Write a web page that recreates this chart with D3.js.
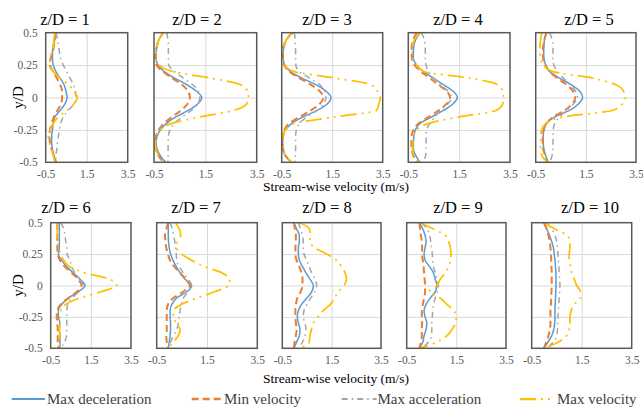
<!DOCTYPE html>
<html>
<head>
<meta charset="utf-8">
<script src="https://cdn.jsdelivr.net/npm/d3@7"></script>
<style>
  body { margin: 0; background: #fff; }
  svg { display: block; }
</style>
</head>
<body>
<div id="chart"></div>
<script>
// ---- data ----
const zLabels = ["z/D = 1", "z/D = 2", "z/D = 3", "z/D = 4", "z/D = 5",
                 "z/D = 6", "z/D = 7", "z/D = 8", "z/D = 9", "z/D = 10"];
const seriesNames = ["Max deceleration", "Min velocity", "Max acceleration", "Max velocity"];
const xTicks = [-0.5, 1.5, 3.5];
const yTicks = [0.5, 0.25, 0, -0.25, -0.5];
const yLevels = [0.5, 0.45, 0.4, 0.35, 0.3, 0.25, 0.2, 0.15, 0.1, 0.05, 0,
                 -0.05, -0.1, -0.15, -0.2, -0.25, -0.3, -0.35, -0.4, -0.45, -0.5];

// one row per panel (z/D = 1..10), values at yLevels
const maxDecel = [
  [0.0, -0.05, -0.13, -0.17, -0.17, -0.13, 0.0, 0.2, 0.39, 0.49, 0.54, 0.44, 0.2, -0.05, -0.13, -0.17, -0.21, -0.21, -0.17, -0.09, 0.0],
  [-0.14, -0.3, -0.38, -0.42, -0.42, -0.34, -0.1, 0.3, 0.77, 1.15, 1.36, 1.2, 0.84, 0.35, -0.01, -0.25, -0.38, -0.42, -0.38, -0.25, -0.05],
  [-0.05, -0.3, -0.4, -0.44, -0.44, -0.38, -0.15, 0.3, 0.85, 1.25, 1.45, 1.3, 0.9, 0.35, -0.1, -0.35, -0.44, -0.46, -0.44, -0.35, -0.1],
  [-0.04, -0.2, -0.28, -0.3, -0.3, -0.17, 0.1, 0.48, 0.88, 1.25, 1.43, 1.25, 0.88, 0.42, -0.04, -0.22, -0.28, -0.3, -0.3, -0.2, -0.04],
  [-0.07, -0.15, -0.17, -0.18, -0.17, -0.1, 0.06, 0.45, 0.91, 1.25, 1.37, 1.2, 0.85, 0.26, -0.07, -0.18, -0.2, -0.2, -0.17, -0.1, 0.0],
  [-0.07, -0.07, -0.07, -0.07, -0.07, -0.12, 0.05, 0.3, 0.63, 0.96, 1.21, 0.88, 0.38, 0.05, -0.12, -0.12, -0.04, -0.07, -0.04, -0.04, -0.04],
  [-0.04, -0.04, -0.04, -0.03, 0.0, 0.05, 0.15, 0.28, 0.43, 0.63, 0.89, 0.7, 0.29, 0.1, 0.03, 0.03, 0.05, 0.05, 0.03, 0.0, -0.04],
  [-0.03, 0.08, 0.19, 0.19, 0.15, 0.15, 0.19, 0.32, 0.46, 0.62, 0.76, 0.69, 0.49, 0.28, 0.15, 0.11, 0.15, 0.22, 0.19, 0.08, -0.03],
  [0.01, 0.15, 0.24, 0.28, 0.24, 0.2, 0.24, 0.42, 0.58, 0.65, 0.72, 0.65, 0.45, 0.28, 0.2, 0.24, 0.31, 0.28, 0.2, 0.15, 0.01],
  [-0.01, 0.1, 0.21, 0.3, 0.37, 0.4, 0.43, 0.45, 0.47, 0.47, 0.47, 0.46, 0.45, 0.44, 0.43, 0.43, 0.42, 0.38, 0.3, 0.15, -0.01]
];
const minVel = [
  [0.0, -0.05, -0.1, -0.16, -0.26, -0.29, -0.13, 0.04, 0.2, 0.3, 0.3, 0.24, 0.07, -0.1, -0.21, -0.29, -0.32, -0.29, -0.21, -0.1, 0.0],
  [-0.14, -0.3, -0.38, -0.43, -0.45, -0.4, -0.15, 0.2, 0.58, 0.82, 0.9, 0.8, 0.55, 0.2, -0.12, -0.32, -0.43, -0.45, -0.43, -0.32, -0.14],
  [-0.1, -0.3, -0.42, -0.46, -0.46, -0.4, -0.2, 0.2, 0.65, 1.0, 1.15, 1.0, 0.65, 0.2, -0.2, -0.4, -0.46, -0.46, -0.44, -0.35, -0.1],
  [-0.17, -0.3, -0.36, -0.37, -0.36, -0.25, 0.0, 0.35, 0.68, 1.0, 1.14, 1.0, 0.68, 0.3, -0.1, -0.3, -0.37, -0.38, -0.37, -0.3, -0.17],
  [-0.07, -0.15, -0.2, -0.22, -0.2, -0.12, 0.06, 0.35, 0.72, 0.98, 1.08, 0.95, 0.65, 0.2, -0.07, -0.18, -0.22, -0.22, -0.2, -0.12, -0.07],
  [-0.17, -0.17, -0.17, -0.17, -0.17, -0.15, -0.04, 0.2, 0.55, 0.85, 1.04, 0.8, 0.38, 0.0, -0.17, -0.2, -0.17, -0.15, -0.15, -0.15, -0.12],
  [-0.04, -0.12, -0.17, -0.15, -0.12, -0.05, 0.03, 0.2, 0.43, 0.65, 0.82, 0.55, 0.16, -0.05, -0.1, -0.1, -0.1, -0.1, -0.12, -0.1, -0.04],
  [-0.03, 0.01, 0.05, 0.05, 0.03, 0.03, 0.08, 0.19, 0.28, 0.32, 0.32, 0.24, 0.11, 0.05, 0.03, 0.03, 0.05, 0.08, 0.05, 0.0, -0.03],
  [0.01, 0.04, 0.07, 0.11, 0.12, 0.12, 0.15, 0.18, 0.2, 0.22, 0.24, 0.24, 0.2, 0.15, 0.11, 0.11, 0.12, 0.11, 0.11, 0.07, 0.01],
  [-0.01, 0.1, 0.17, 0.22, 0.25, 0.27, 0.28, 0.29, 0.3, 0.3, 0.3, 0.29, 0.28, 0.27, 0.25, 0.25, 0.25, 0.23, 0.17, 0.08, -0.01]
];
const maxAccel = [
  [0.0, 0.07, 0.12, 0.17, 0.23, 0.36, 0.52, 0.69, 0.85, 0.95, 0.98, 0.88, 0.6, 0.36, 0.23, 0.17, 0.12, 0.07, 0.04, 0.0, 0.0],
  [0.0, 0.04, 0.06, 0.06, 0.06, 0.08, 0.3, 0.65, 1.0, 1.23, 1.29, 1.2, 0.95, 0.6, 0.3, 0.12, 0.06, 0.05, 0.05, 0.05, 0.04],
  [0.0, 0.03, 0.04, 0.05, 0.05, 0.06, 0.2, 0.6, 1.0, 1.2, 1.25, 1.15, 0.9, 0.5, 0.2, 0.08, 0.05, 0.05, 0.05, 0.04, 0.02],
  [0.02, 0.12, 0.16, 0.17, 0.17, 0.2, 0.29, 0.5, 0.75, 1.05, 1.2, 1.05, 0.75, 0.55, 0.35, 0.22, 0.2, 0.2, 0.2, 0.18, 0.05],
  [0.06, 0.15, 0.19, 0.19, 0.19, 0.22, 0.39, 0.6, 0.85, 1.08, 1.17, 1.0, 0.72, 0.45, 0.26, 0.2, 0.19, 0.19, 0.19, 0.15, 0.06],
  [0.0, 0.15, 0.21, 0.25, 0.3, 0.32, 0.46, 0.55, 0.71, 0.95, 1.13, 0.9, 0.55, 0.35, 0.3, 0.3, 0.3, 0.3, 0.28, 0.2, 0.0],
  [0.03, 0.12, 0.17, 0.22, 0.26, 0.28, 0.29, 0.4, 0.56, 0.75, 0.89, 0.75, 0.56, 0.48, 0.43, 0.4, 0.36, 0.3, 0.17, 0.05, -0.04],
  [0.15, 0.24, 0.32, 0.35, 0.35, 0.38, 0.49, 0.59, 0.69, 0.82, 0.89, 0.82, 0.65, 0.49, 0.38, 0.35, 0.42, 0.46, 0.42, 0.32, 0.15],
  [0.11, 0.31, 0.42, 0.47, 0.5, 0.53, 0.55, 0.58, 0.65, 0.72, 0.78, 0.74, 0.65, 0.58, 0.55, 0.53, 0.51, 0.51, 0.5, 0.38, 0.11],
  [0.1, 0.3, 0.43, 0.5, 0.53, 0.55, 0.57, 0.59, 0.6, 0.62, 0.63, 0.62, 0.6, 0.58, 0.57, 0.55, 0.54, 0.53, 0.5, 0.37, 0.1]
];
const maxVel = [
  [-0.05, -0.1, -0.13, -0.21, -0.29, -0.32, -0.13, 0.2, 0.6, 0.88, 1.04, 0.88, 0.52, 0.12, -0.13, -0.29, -0.37, -0.32, -0.21, -0.13, -0.05],
  [-0.14, -0.3, -0.38, -0.43, -0.43, -0.3, 0.25, 1.7, 2.85, 3.14, 3.18, 3.1, 2.6, 1.3, 0.2, -0.27, -0.42, -0.45, -0.43, -0.3, -0.14],
  [-0.1, -0.3, -0.42, -0.46, -0.46, -0.38, 0.0, 1.6, 3.0, 3.3, 3.4, 3.35, 3.25, 1.6, 0.0, -0.35, -0.46, -0.46, -0.44, -0.35, -0.1],
  [-0.04, -0.25, -0.33, -0.35, -0.33, -0.17, 0.1, 1.9, 3.0, 3.21, 3.24, 3.21, 2.95, 1.5, 0.3, -0.17, -0.3, -0.33, -0.33, -0.28, -0.04],
  [-0.26, -0.3, -0.33, -0.33, -0.3, -0.2, 0.19, 1.76, 2.68, 3.0, 3.07, 2.95, 2.55, 0.6, -0.1, -0.26, -0.3, -0.3, -0.3, -0.25, 0.0],
  [-0.17, -0.17, -0.17, -0.15, -0.1, 0.0, 0.15, 0.45, 1.2, 2.45, 2.79, 2.0, 0.95, 0.25, 0.0, -0.04, -0.04, -0.07, -0.05, -0.05, -0.1],
  [0.25, 0.4, 0.45, 0.32, 0.29, 0.49, 0.9, 1.4, 2.1, 2.4, 2.35, 1.8, 1.1, 0.5, 0.16, 0.16, 0.29, 0.43, 0.36, 0.16, -0.04],
  [0.2, 0.6, 0.62, 0.62, 0.82, 1.3, 1.7, 1.9, 2.05, 2.1, 2.0, 1.77, 1.62, 1.45, 1.16, 0.95, 0.75, 0.68, 0.62, 0.59, 0.2],
  [0.04, 0.58, 1.05, 1.19, 1.26, 1.28, 1.26, 1.19, 1.05, 0.85, 0.72, 0.4, 0.85, 1.12, 1.39, 1.5, 1.46, 1.32, 1.12, 0.72, 0.04],
  [-0.01, 0.43, 0.9, 1.03, 1.03, 1.0, 1.0, 1.06, 1.1, 1.2, 1.3, 1.45, 1.45, 1.2, 1.08, 1.03, 1.03, 1.0, 0.9, 0.57, 0.03]
];

// ---- layout ----
const W = 643, H = 414;
const serif = "'Liberation Serif', serif";
// plot boxes [left, right] per panel, rows share top/bottom
const boxX = [[45.7, 127.7], [154, 256.7], [281.7, 382.7], [408.3, 510], [535.7, 636],
              [50.7, 131], [156.7, 257.3], [282.3, 381], [406.7, 506], [531.7, 631.7]];
const rowY = [[32.7, 162.3], [222.7, 348.3]];
const titleX = [65, 197, 327, 458, 589, 66, 196, 327, 458, 590];
const titleY = [25, 213.3];

const styles = [
  { color: "#5B9BD5", width: 1.5, dash: null },
  { color: "#ED7D31", width: 2, dash: "7,4" },
  { color: "#A5A5A5", width: 1.5, dash: "6,4,1.5,4" },
  { color: "#FFC000", width: 1.75, dash: "16,5,2,5,2,5" }
];
const allSeries = [maxDecel, minVel, maxAccel, maxVel];

const svg = d3.select("#chart").append("svg")
  .attr("width", W).attr("height", H);

function addText(sel, size, color) {
  return sel.style("font-family", serif)
    .style("font-size", size + "px")
    .attr("fill", color);
}

zLabels.forEach(function(label, i) {
  const row = i < 5 ? 0 : 1;
  const x = d3.scaleLinear().domain([-0.5, 3.5]).range(boxX[i]);
  const y = d3.scaleLinear().domain([-0.5, 0.5]).range([rowY[row][1], rowY[row][0]]);
  const g = svg.append("g");
  const w = boxX[i][1] - boxX[i][0];
  const h = rowY[row][1] - rowY[row][0];

  // gridlines
  g.append("g")
    .attr("transform", "translate(" + boxX[i][0] + ",0)")
    .call(d3.axisLeft(y).tickValues([0.25, 0, -0.25]).tickSize(-w).tickFormat(""))
    .call(s => s.select(".domain").remove())
    .selectAll("line").attr("stroke", "#d9d9d9").attr("stroke-width", 1);
  g.append("g")
    .attr("transform", "translate(0," + rowY[row][1] + ")")
    .call(d3.axisBottom(x).tickValues([1.5]).tickSize(-h).tickFormat(""))
    .call(s => s.select(".domain").remove())
    .selectAll("line").attr("stroke", "#d9d9d9").attr("stroke-width", 1);

  // x tick labels
  g.append("g")
    .attr("transform", "translate(0," + rowY[row][1] + ")")
    .call(d3.axisBottom(x).tickValues(xTicks).tickSize(0).tickPadding(8).tickFormat(d => String(d)))
    .call(s => s.select(".domain").remove())
    .selectAll("text")
    .call(addText, 11.5, "#595959");

  // y tick labels on first panel of row
  if (i % 5 === 0) {
    g.append("g")
      .attr("transform", "translate(" + boxX[i][0] + ",0)")
      .call(d3.axisLeft(y).tickValues(yTicks).tickSize(0).tickPadding(8).tickFormat(d => String(d)))
      .call(s => s.select(".domain").remove())
      .selectAll("text")
      .call(addText, 11.5, "#595959");

    svg.append("text")
      .attr("transform", "translate(18," + (rowY[row][0] + h / 2) + ") rotate(-90)")
      .attr("text-anchor", "middle")
      .attr("dy", "0.35em")
      .call(addText, 15, "#000")
      .text("y/D");
  }

  // profiles
  const line = d3.line()
    .x(d => x(d[0]))
    .y(d => y(d[1]))
    .curve(d3.curveMonotoneY);

  allSeries.forEach(function(series, k) {
    const pts = series[i].map((v, j) => [v, yLevels[j]]);
    g.append("path")
      .attr("d", line(pts))
      .attr("fill", "none")
      .attr("stroke", styles[k].color)
      .attr("stroke-width", styles[k].width)
      .attr("stroke-dasharray", styles[k].dash);
  });

  // frame
  g.append("rect")
    .attr("x", boxX[i][0]).attr("y", rowY[row][0])
    .attr("width", w).attr("height", h)
    .attr("fill", "none")
    .attr("stroke", "#595959")
    .attr("stroke-width", 1.5);

  // title
  svg.append("text")
    .attr("x", titleX[i]).attr("y", titleY[row])
    .attr("text-anchor", "middle")
    .call(addText, 16.5, "#000")
    .text(label);
});

// x axis titles
[191, 383].forEach(function(yy) {
  svg.append("text")
    .attr("x", 336).attr("y", yy)
    .attr("text-anchor", "middle")
    .call(addText, 13.5, "#000")
    .text("Stream-wise velocity (m/s)");
});

// legend
const legendX = [[11.7, 45, 47], [191.7, 221, 224], [341.7, 376.7, 377.5], [520, 551, 557]];
const legend = svg.append("g");
seriesNames.forEach(function(name, k) {
  legend.append("line")
    .attr("x1", legendX[k][0]).attr("x2", legendX[k][1])
    .attr("y1", 399).attr("y2", 399)
    .attr("stroke", styles[k].color)
    .attr("stroke-width", styles[k].width + 0.5)
    .attr("stroke-dasharray", styles[k].dash);
  legend.append("text")
    .attr("x", legendX[k][2]).attr("y", 403.5)
    .call(addText, 15, "#404040")
    .text(name);
});
</script>
</body>
</html>
